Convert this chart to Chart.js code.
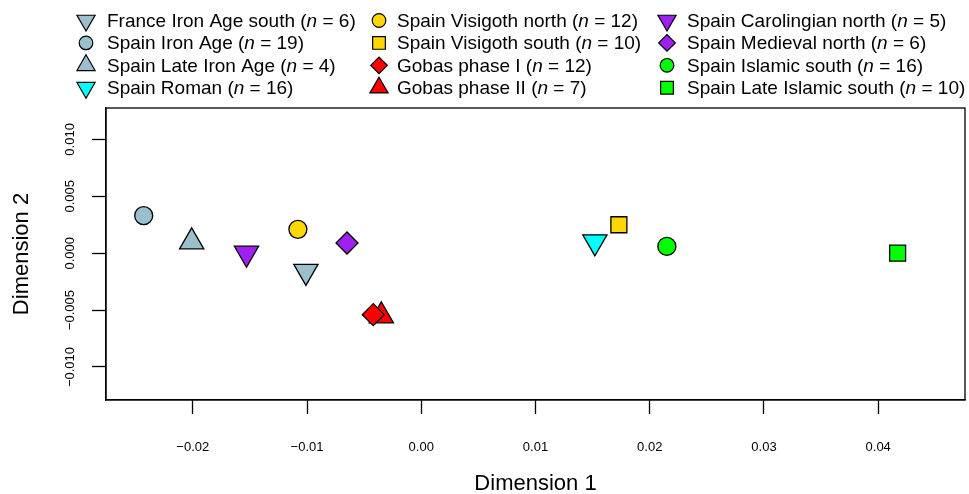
<!DOCTYPE html>
<html><head><meta charset="utf-8">
<script src="https://cdn.jsdelivr.net/npm/chart.js@4.4.1/dist/chart.umd.min.js"></script>
<style>html,body{margin:0;padding:0;background:#fff}</style>
</head><body>
<canvas id="c" width="969" height="494" style="width:969px;height:494px;display:block"></canvas>
<script>
// ---- data ----
const groups = [
  'France Iron Age south', 'Spain Iron Age', 'Spain Late Iron Age', 'Spain Roman',
  'Spain Visigoth north', 'Spain Visigoth south', 'Gobas phase I', 'Gobas phase II',
  'Spain Carolingian north', 'Spain Medieval north', 'Spain Islamic south', 'Spain Late Islamic south'
];
const sampleSizes = [6, 19, 4, 16, 12, 10, 12, 7, 5, 6, 16, 10];
const dim1 = [-0.0101, -0.0243, -0.0201, 0.0152, -0.0108, 0.0173, -0.0042, -0.0035, -0.0153, -0.0065, 0.0215, 0.0417];
const dim2 = [-0.0016, 0.0033, 0.0010, 0.0010, 0.0021, 0.0025, -0.0054, -0.0055, 0.0000, 0.0009, 0.0006, 0.0000];
const xTicks = [-0.02, -0.01, 0.00, 0.01, 0.02, 0.03, 0.04];
const yTicks = [-0.010, -0.005, 0.000, 0.005, 0.010];

// ---- styles ----
const LB = '#9AC0CD', CY = '#00FFFF', GD = '#FFD700', RD = '#FF0000', PU = '#A020F0', GR = '#00FF00';
const fills = [LB, LB, LB, CY, GD, GD, RD, RD, PU, PU, GR, GR];
const shapes = ['down', 'circle', 'up', 'down', 'circle', 'square', 'diamond', 'up', 'down', 'diamond', 'circle', 'square'];
const plotR = {circle: 9, up: 14, down: 14, square: 11.3, diamond: 11};
const legR = {circle: 6.8, up: 10.5, down: 10.5, square: 9, diamond: 8.3};
function styleOf(s) {
  if (s === 'circle') return {ps: 'circle', rot: 0};
  if (s === 'up') return {ps: 'triangle', rot: 0};
  if (s === 'down') return {ps: 'triangle', rot: 180};
  if (s === 'square') return {ps: 'rect', rot: 0};
  return {ps: 'rectRot', rot: 0};
}
const FONT = '"Liberation Sans", Arial, sans-serif';
const fmtMinus = (s) => s.replace('-', '\u2212');

const datasets = groups.map((g, i) => {
  const st = styleOf(shapes[i]);
  return {
    label: g,
    data: [{x: dim1[i], y: dim2[i]}],
    pointStyle: st.ps,
    rotation: st.rot,
    pointRadius: plotR[shapes[i]],
    pointHoverRadius: plotR[shapes[i]],
    backgroundColor: fills[i],
    borderColor: '#000',
    borderWidth: 1.3,
    pointBorderWidth: 1.3
  };
});

const boxPlugin = {
  id: 'box',
  beforeDatasetsDraw(chart) {
    const a = chart.chartArea, ctx = chart.ctx;
    ctx.save();
    ctx.strokeStyle = '#000'; ctx.lineWidth = 1.3;
    ctx.strokeRect(a.left, a.top, a.right - a.left, a.bottom - a.top);
    ctx.restore();
  }
};

const yLabelPlugin = {
  id: 'ylabels',
  afterDraw(chart) {
    const ys = chart.scales.y, ctx = chart.ctx;
    ctx.save();
    ctx.fillStyle = '#000';
    ctx.font = '13px ' + FONT;
    ctx.textAlign = 'center'; ctx.textBaseline = 'middle';
    ys.ticks.forEach(t => {
      const py = ys.getPixelForValue(t.value);
      ctx.save();
      ctx.translate(70, py);
      ctx.rotate(-Math.PI / 2);
      ctx.fillText(fmtMinus(t.value.toFixed(3)), 0, 0);
      ctx.restore();
    });
    ctx.restore();
  }
};

const legendPlugin = {
  id: 'customLegend',
  afterDraw(chart) {
    const ctx = chart.ctx;
    const colSym = [86, 379, 667], colTxt = [107, 397, 687];
    const rowY0 = 20.5, rowDy = 22.4;
    ctx.save();
    chart.data.datasets.forEach((ds, i) => {
      const col = Math.floor(i / 4), row = i % 4;
      const y = rowY0 + row * rowDy;
      ctx.fillStyle = ds.backgroundColor; ctx.strokeStyle = '#000'; ctx.lineWidth = 1.2;
      Chart.helpers.drawPoint(ctx, {pointStyle: ds.pointStyle, rotation: ds.rotation, radius: legR[shapes[i]], borderWidth: 1.2}, colSym[col], y);
      ctx.fillStyle = '#000'; ctx.textBaseline = 'middle'; ctx.textAlign = 'left';
      let x = colTxt[col];
      const parts = [[ds.label + ' (', 'normal'], ['n', 'italic'], [' = ' + sampleSizes[i] + ')', 'normal']];
      parts.forEach(([txt, style]) => {
        ctx.font = style + ' 19px ' + FONT;
        ctx.fillText(txt, x, y + 1);
        x += ctx.measureText(txt).width;
      });
    });
    ctx.restore();
  }
};

new Chart(document.getElementById('c'), {
  type: 'scatter',
  data: {datasets},
  plugins: [boxPlugin, yLabelPlugin, legendPlugin],
  options: {
    responsive: false,
    devicePixelRatio: 1,
    animation: false,
    layout: {autoPadding: false, padding: {top: 108, right: 4, left: 0, bottom: 0}},
    plugins: {legend: {display: false}, tooltip: {enabled: false}},
    scales: {
      x: {
        type: 'linear', position: 'bottom',
        min: -0.0276, max: 0.0476,
        afterBuildTicks: (s) => { s.ticks = xTicks.map(v => ({value: v})); },
        afterFit: (s) => { s.height = 94; s.paddingLeft = 0; s.paddingRight = 0; },
        grid: {drawOnChartArea: false, drawTicks: true, tickLength: 14, tickColor: '#000', tickWidth: 1.3},
        border: {display: true, color: '#000', width: 1.3},
        ticks: {
          autoSkip: false, maxRotation: 0, minRotation: 0, padding: 26, color: '#000',
          font: {family: FONT, size: 13},
          callback: (v) => fmtMinus(Number(v).toFixed(2))
        },
        title: {display: true, text: 'Dimension 1', color: '#000', font: {family: FONT, size: 22}, padding: {top: 0, bottom: -3}}
      },
      y: {
        type: 'linear', position: 'left',
        min: -0.0129, max: 0.01276,
        afterBuildTicks: (s) => { s.ticks = yTicks.map(v => ({value: v})); },
        afterFit: (s) => { s.width = 106; s.paddingTop = 0; s.paddingBottom = 0; },
        grid: {drawOnChartArea: false, drawTicks: true, tickLength: 14, tickColor: '#000', tickWidth: 1.3},
        border: {display: true, color: '#000', width: 1.3},
        ticks: {display: false},
        title: {display: true, text: 'Dimension 2', color: '#000', font: {family: FONT, size: 22}, padding: {top: 9, bottom: 0}}
      }
    }
  }
});
</script>
</body></html>
